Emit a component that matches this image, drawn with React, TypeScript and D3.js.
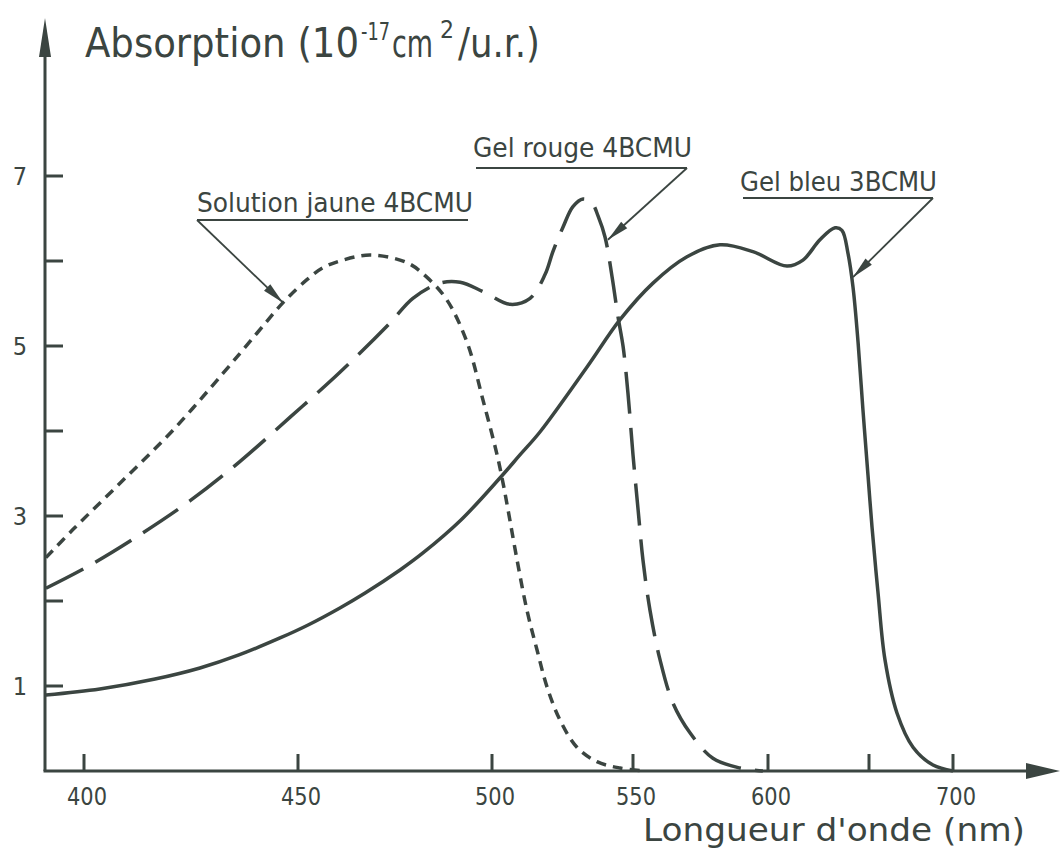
import React from "react";
import * as d3 from "d3";

const W = 1060;
const H = 861;
const INK = "#3b4541";
const FONT = "'DejaVu Sans Condensed','DejaVu Sans',sans-serif";

// Axis ticks (the hand-drawn wavelength axis is non-uniform)
const xTickValues = [400, 450, 500, 550, 600, 650, 700];
const xTickLabels = ["400", "450", "500", "550", "600", "", "700"];
const yTickValues = [1, 2, 3, 4, 5, 6, 7];
const yTickLabels = ["1", "", "3", "", "5", "", "7"];

// Solution jaune 4BCMU (short dashes)
const jauneLambda = [391.1, 397.4, 409.1, 420.8, 432.5, 440.4, 446.5, 452.3, 456.4, 460.8, 468.6, 478.1, 483.2, 488.4, 493.6, 497.7, 501.8, 503.9, 505.7, 508.9, 512.4, 516.0, 519.5, 524.1, 530.1, 537.2, 545.4, 554.4];
const jauneValues = [2.51, 2.84, 3.42, 4.01, 4.68, 5.15, 5.51, 5.78, 5.92, 6.0, 6.07, 5.98, 5.81, 5.54, 5.04, 4.36, 3.72, 3.39, 3.07, 2.48, 1.89, 1.42, 0.99, 0.6, 0.28, 0.11, 0.035, 0];

// Gel rouge 4BCMU (long dashes)
const rougeLambda = [391.1, 401.4, 413.1, 424.8, 436.4, 448.1, 460.8, 473.7, 479.6, 486.6, 491.8, 497.7, 506.4, 513.5, 518.8, 521.6, 525.2, 528.7, 532.3, 535.5, 537.6, 540.1, 542.6, 544.7, 546.5, 548.2, 550.0, 551.9, 553.7, 556.3, 560.0, 564.8, 571.1, 579.6, 589.6, 598.1];
const rougeValues = [2.15, 2.42, 2.78, 3.18, 3.64, 4.16, 4.69, 5.27, 5.56, 5.74, 5.75, 5.64, 5.49, 5.56, 5.84, 6.11, 6.4, 6.64, 6.73, 6.68, 6.53, 6.28, 5.81, 5.34, 4.99, 4.45, 3.72, 3.07, 2.48, 1.89, 1.31, 0.8, 0.45, 0.15, 0.035, 0];

// Gel bleu 3BCMU (solid)
const bleuLambda = [391.1, 403.7, 416.6, 427.1, 436.2, 445.8, 452.6, 460.8, 467.3, 476.3, 482.2, 492.0, 502.8, 509.9, 517.0, 533.7, 545.4, 557.4, 570.0, 582.2, 594.4, 609.4, 617.3, 625.7, 633.2, 636.6, 639.6, 642.1, 644.6, 647.0, 649.5, 651.8, 655.4, 659.5, 666.7, 676.2, 688.1, 700];
const bleuValues = [0.894, 0.965, 1.082, 1.212, 1.365, 1.565, 1.718, 1.918, 2.094, 2.365, 2.565, 2.953, 3.447, 3.718, 3.988, 4.753, 5.31, 5.74, 6.05, 6.19, 6.11, 5.94, 6.01, 6.25, 6.39, 6.36, 6.09, 5.69, 5.04, 4.25, 3.48, 2.87, 2.09, 1.31, 0.68, 0.28, 0.07, 0];

const seriesNames = ["Solution jaune 4BCMU", "Gel rouge 4BCMU", "Gel bleu 3BCMU"];
// points on the curves that the label arrows point to
const arrowLambda = [446.5, 541.1, 642.1];
const arrowValue = [5.51, 6.25, 5.81];

type Pt = [number, number];

function zip(a: number[], b: number[]): Pt[] {
  return a.map((v, i) => [v, b[i]] as Pt);
}

export default function App() {
  const x = d3.scaleLinear().domain(xTickValues).range([84, 298, 492, 633, 768, 869, 953]);
  const y = d3.scaleLinear().domain([0, 7]).range([771, 176]);
  const line = d3
    .line<Pt>()
    .x((d) => x(d[0]))
    .y((d) => Math.min(y(0), y(d[1])))
    .curve(d3.curveCatmullRom.alpha(0.5));

  const axisX0 = 45;
  const axisY0 = y(0);

  const series = [
    { data: zip(jauneLambda, jauneValues), dash: "10 7" },
    { data: zip(rougeLambda, rougeValues), dash: "42 14" },
    { data: zip(bleuLambda, bleuValues), dash: "" },
  ];

  // label layout: text left/baseline, underline, arrow starting end
  const labels = [
    { x: 197, base: 212, len: 276, ulx1: 197, ulx2: 468, uly: 220, fromX: 197 },
    { x: 473, base: 157, len: 219, ulx1: 476, ulx2: 687, uly: 168, fromX: 687 },
    { x: 740, base: 191, len: 197, ulx1: 743, ulx2: 933, uly: 198, fromX: 933 },
  ];

  const arrowHead = (fx: number, fy: number, tx: number, ty: number) => {
    const dx = tx - fx;
    const dy = ty - fy;
    const L = Math.hypot(dx, dy);
    const ux = dx / L;
    const uy = dy / L;
    const len = 22;
    const hw = 4.5;
    const bx = tx - ux * len;
    const by = ty - uy * len;
    return `M${tx},${ty}L${bx - uy * hw},${by + ux * hw}L${bx + uy * hw},${by - ux * hw}Z`;
  };

  return (
    <svg
      width={W}
      height={H}
      viewBox={`0 0 ${W} ${H}`}
      style={{ position: "absolute", left: 0, top: 0, background: "#ffffff" }}
      fontFamily={FONT}
    >
      <rect x={0} y={0} width={W} height={H} fill="#ffffff" />

      {/* axes */}
      <line x1={axisX0} y1={axisY0} x2={axisX0} y2={45} stroke={INK} strokeWidth={3} />
      <path d={`M${axisX0},18L${axisX0 - 6},57L${axisX0 + 6},57Z`} fill={INK} />
      <line x1={axisX0 - 1.5} y1={axisY0} x2={1035} y2={axisY0} stroke={INK} strokeWidth={3} />
      <path d={`M1060,${axisY0}L1026,${axisY0 - 8}L1026,${axisY0 + 8}Z`} fill={INK} />

      {/* y ticks */}
      {yTickValues.map((v, i) => (
        <g key={"yt" + v}>
          <line x1={axisX0} x2={axisX0 + 18} y1={y(v)} y2={y(v)} stroke={INK} strokeWidth={3} />
          {yTickLabels[i] && (
            <text x={20} y={y(v) + 9} fontSize={25} fill={INK} textAnchor="middle">
              {yTickLabels[i]}
            </text>
          )}
        </g>
      ))}

      {/* x ticks */}
      {xTickValues.map((v, i) => (
        <g key={"xt" + v}>
          <line x1={x(v)} x2={x(v)} y1={axisY0} y2={axisY0 - 17} stroke={INK} strokeWidth={3} />
          {xTickLabels[i] && (
            <text
              x={x(v) + 3 - 20}
              y={805}
              fontSize={25}
              fill={INK}
              textLength={40}
              lengthAdjust="spacingAndGlyphs"
            >
              {xTickLabels[i]}
            </text>
          )}
        </g>
      ))}

      {/* curves */}
      {series.map((s, i) => (
        <path
          key={"s" + i}
          d={line(s.data) || ""}
          fill="none"
          stroke={INK}
          strokeWidth={3.5}
          strokeDasharray={s.dash || undefined}
          strokeLinecap="butt"
          strokeLinejoin="round"
        />
      ))}

      {/* labels with arrows */}
      {labels.map((l, i) => {
        const tx = x(arrowLambda[i]);
        const ty = y(arrowValue[i]);
        return (
          <g key={"lab" + i}>
            <text
              x={l.x}
              y={l.base}
              fontSize={26}
              fill={INK}
              textLength={l.len}
              lengthAdjust="spacingAndGlyphs"
            >
              {seriesNames[i]}
            </text>
            <line x1={l.ulx1} x2={l.ulx2} y1={l.uly} y2={l.uly} stroke={INK} strokeWidth={2} />
            <line x1={l.fromX} y1={l.uly} x2={tx} y2={ty} stroke={INK} strokeWidth={1.8} />
            <path d={arrowHead(l.fromX, l.uly, tx, ty)} fill={INK} />
          </g>
        );
      })}

      {/* y axis title (single text with superscripts) */}
      <text y={57} fill={INK}>
        <tspan x={85} y={57} fontSize={40} textLength={274} lengthAdjust="spacingAndGlyphs">
          Absorption (10
        </tspan>
        <tspan x={361} y={40} fontSize={24} textLength={29} lengthAdjust="spacingAndGlyphs">
          -17
        </tspan>
        <tspan x={392} y={57} fontSize={37} textLength={41} lengthAdjust="spacingAndGlyphs">
          cm
        </tspan>
        <tspan x={440} y={38} fontSize={24} textLength={14} lengthAdjust="spacingAndGlyphs">
          2
        </tspan>
        <tspan x={458} y={57} fontSize={40} textLength={82} lengthAdjust="spacingAndGlyphs">
          /u.r.)
        </tspan>
      </text>

      {/* x axis title */}
      <text x={643} y={841} fontSize={32} fill={INK} textLength={382} lengthAdjust="spacingAndGlyphs">
        Longueur d'onde (nm)
      </text>
    </svg>
  );
}
